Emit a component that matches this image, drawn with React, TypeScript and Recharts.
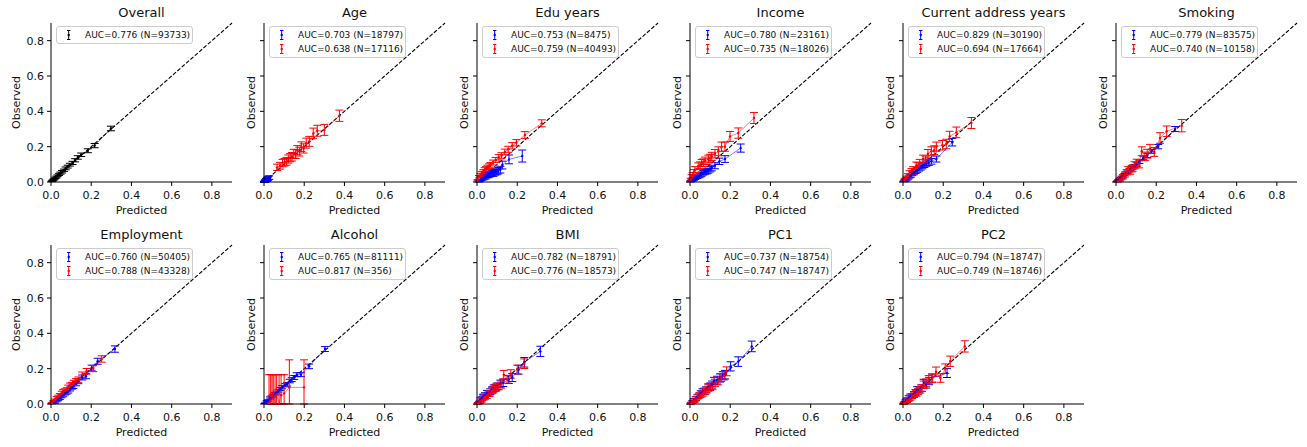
import React from 'react';
import { ScatterChart, Scatter, XAxis, YAxis, ErrorBar, ReferenceLine, Legend } from 'recharts';

// ---------- data ----------
const axisTicks = [0, 0.2, 0.4, 0.6, 0.8];

const overallX = [0.004,0.008,0.012,0.017,0.022,0.027,0.033,0.04,0.047,0.055,0.064,0.073,0.083,0.094,0.107,0.12,0.133,0.15,0.183,0.217,0.298];
const overallY = [0.004,0.008,0.013,0.017,0.023,0.028,0.035,0.043,0.05,0.058,0.066,0.077,0.087,0.098,0.108,0.123,0.139,0.154,0.177,0.206,0.303];
const overallErr = [0.002,0.003,0.003,0.004,0.004,0.005,0.005,0.006,0.006,0.007,0.007,0.008,0.008,0.008,0.009,0.009,0.01,0.01,0.011,0.012,0.013];
const overallLabels = ['AUC=0.776 (N=93733)'];

const ageBlueX = [0.001,0.002,0.003,0.004,0.005,0.006,0.007,0.008,0.009,0.01,0.011,0.012,0.013,0.014,0.015,0.016,0.018,0.02,0.022,0.026];
const ageBlueY = [0.001,0.001,0.002,0.004,0.004,0.006,0.006,0.009,0.008,0.01,0.012,0.011,0.014,0.013,0.016,0.015,0.019,0.02,0.023,0.025];
const ageBlueErr = [0.002,0.002,0.003,0.004,0.004,0.005,0.005,0.006,0.006,0.006,0.007,0.007,0.007,0.007,0.008,0.008,0.009,0.009,0.01,0.01];
const ageRedX = [0.065,0.08,0.092,0.102,0.112,0.121,0.13,0.139,0.148,0.157,0.166,0.176,0.186,0.197,0.21,0.225,0.245,0.265,0.3,0.375];
const ageRedY = [0.083,0.092,0.107,0.112,0.117,0.13,0.138,0.143,0.16,0.158,0.18,0.172,0.2,0.19,0.22,0.23,0.275,0.29,0.295,0.375];
const ageRedErr = [0.018,0.019,0.021,0.021,0.022,0.023,0.023,0.024,0.025,0.025,0.026,0.025,0.027,0.026,0.028,0.028,0.03,0.031,0.031,0.032];
const ageLabels = ['AUC=0.703 (N=18797)', 'AUC=0.638 (N=17116)'];

const eduBlueX = [0.008,0.014,0.02,0.026,0.032,0.038,0.044,0.05,0.056,0.062,0.068,0.075,0.082,0.09,0.098,0.106,0.116,0.126,0.159,0.225];
const eduBlueY = [0.004,0.008,0.015,0.02,0.022,0.028,0.03,0.04,0.036,0.042,0.045,0.05,0.046,0.055,0.058,0.064,0.07,0.096,0.128,0.147];
const eduBlueErr = [0.004,0.006,0.008,0.009,0.01,0.011,0.012,0.013,0.012,0.014,0.014,0.015,0.014,0.016,0.017,0.018,0.019,0.022,0.025,0.034];
const eduRedX = [0.003,0.01,0.018,0.025,0.032,0.038,0.045,0.052,0.06,0.067,0.08,0.093,0.108,0.122,0.138,0.155,0.175,0.196,0.238,0.322];
const eduRedY = [0.01,0.03,0.04,0.05,0.06,0.07,0.075,0.083,0.09,0.097,0.11,0.125,0.14,0.15,0.17,0.185,0.205,0.222,0.266,0.332];
const eduRedErr = [0.004,0.007,0.009,0.01,0.01,0.011,0.012,0.012,0.013,0.013,0.014,0.014,0.015,0.016,0.016,0.017,0.018,0.018,0.019,0.02];
const eduLabels = ['AUC=0.753 (N=8475)', 'AUC=0.759 (N=40493)'];

const incBlueX = [0.003,0.008,0.013,0.019,0.025,0.031,0.037,0.047,0.053,0.058,0.066,0.075,0.083,0.091,0.1,0.108,0.124,0.146,0.174,0.252];
const incBlueY = [0.004,0.008,0.013,0.017,0.023,0.027,0.03,0.035,0.04,0.045,0.052,0.057,0.06,0.064,0.072,0.079,0.092,0.117,0.13,0.192];
const incBlueErr = [0.004,0.005,0.007,0.008,0.009,0.009,0.01,0.011,0.011,0.012,0.013,0.013,0.014,0.014,0.015,0.016,0.017,0.018,0.019,0.023];
const incRedX = [0.003,0.008,0.013,0.019,0.025,0.041,0.05,0.058,0.066,0.075,0.091,0.1,0.108,0.124,0.141,0.157,0.174,0.199,0.24,0.318];
const incRedY = [0.013,0.03,0.04,0.055,0.07,0.089,0.095,0.107,0.11,0.12,0.13,0.135,0.145,0.16,0.174,0.2,0.2,0.258,0.277,0.362];
const incRedErr = [0.008,0.011,0.013,0.015,0.017,0.019,0.019,0.02,0.021,0.021,0.022,0.022,0.023,0.024,0.025,0.026,0.026,0.028,0.029,0.031];
const incLabels = ['AUC=0.780 (N=23161)', 'AUC=0.735 (N=18026)'];

const caBlueX = [0.004,0.008,0.012,0.017,0.022,0.027,0.033,0.039,0.046,0.054,0.063,0.071,0.08,0.088,0.096,0.106,0.116,0.128,0.141,0.166,0.245];
const caBlueY = [0.004,0.008,0.01,0.016,0.019,0.025,0.032,0.036,0.047,0.052,0.06,0.068,0.075,0.082,0.089,0.097,0.104,0.11,0.117,0.13,0.225];
const caBlueErr = [0.003,0.005,0.005,0.006,0.007,0.008,0.009,0.009,0.011,0.011,0.012,0.013,0.013,0.014,0.014,0.015,0.015,0.016,0.016,0.017,0.021];
const caRedX = [0.008,0.017,0.025,0.033,0.042,0.05,0.066,0.075,0.083,0.1,0.112,0.124,0.141,0.155,0.166,0.196,0.215,0.232,0.265,0.34];
const caRedY = [0.013,0.023,0.035,0.05,0.06,0.07,0.094,0.09,0.108,0.13,0.125,0.16,0.174,0.18,0.2,0.208,0.215,0.258,0.281,0.334];
const caRedErr = [0.008,0.01,0.012,0.014,0.016,0.017,0.019,0.019,0.02,0.022,0.022,0.024,0.025,0.025,0.026,0.027,0.027,0.029,0.03,0.031];
const caLabels = ['AUC=0.829 (N=30190)', 'AUC=0.694 (N=17664)'];

const smBlueX = [0.005,0.011,0.017,0.023,0.029,0.035,0.042,0.049,0.057,0.065,0.073,0.082,0.092,0.103,0.116,0.136,0.156,0.177,0.21,0.294];
const smBlueY = [0.004,0.01,0.014,0.022,0.027,0.034,0.042,0.05,0.056,0.066,0.072,0.08,0.09,0.1,0.115,0.136,0.15,0.174,0.2,0.3];
const smBlueErr = [0.002,0.003,0.004,0.004,0.005,0.006,0.006,0.007,0.007,0.008,0.008,0.008,0.009,0.009,0.01,0.01,0.011,0.011,0.012,0.014];
const smRedX = [0.01,0.02,0.028,0.036,0.045,0.053,0.061,0.07,0.078,0.083,0.092,0.103,0.115,0.128,0.144,0.155,0.169,0.19,0.219,0.252,0.327];
const smRedY = [0.005,0.013,0.023,0.03,0.042,0.055,0.07,0.06,0.075,0.079,0.095,0.108,0.1,0.174,0.145,0.16,0.187,0.17,0.249,0.287,0.319];
const smRedErr = [0.005,0.008,0.01,0.012,0.014,0.015,0.017,0.016,0.018,0.018,0.02,0.021,0.02,0.025,0.024,0.025,0.026,0.025,0.03,0.03,0.035];
const smLabels = ['AUC=0.779 (N=83575)', 'AUC=0.740 (N=10158)'];

const emBlueX = [0.005,0.012,0.02,0.028,0.036,0.044,0.052,0.061,0.07,0.078,0.086,0.095,0.103,0.111,0.125,0.136,0.155,0.174,0.202,0.232,0.318];
const emBlueY = [0.003,0.008,0.009,0.018,0.025,0.033,0.043,0.05,0.06,0.066,0.072,0.085,0.095,0.1,0.115,0.128,0.15,0.157,0.204,0.242,0.311];
const emBlueErr = [0.002,0.004,0.004,0.005,0.006,0.007,0.008,0.009,0.009,0.01,0.01,0.011,0.011,0.012,0.012,0.013,0.014,0.014,0.016,0.017,0.018];
const emRedX = [0.004,0.012,0.02,0.028,0.036,0.044,0.053,0.06,0.068,0.078,0.086,0.095,0.103,0.113,0.125,0.136,0.155,0.177,0.21,0.252];
const emRedY = [0.005,0.015,0.022,0.034,0.042,0.05,0.062,0.07,0.075,0.081,0.095,0.105,0.109,0.12,0.13,0.138,0.165,0.185,0.2,0.255];
const emRedErr = [0.003,0.005,0.006,0.008,0.008,0.009,0.01,0.011,0.011,0.011,0.012,0.013,0.013,0.014,0.014,0.015,0.016,0.016,0.017,0.018];
const emLabels = ['AUC=0.760 (N=50405)', 'AUC=0.788 (N=43328)'];

const alBlueX = [0.005,0.013,0.02,0.03,0.037,0.045,0.055,0.063,0.072,0.08,0.09,0.104,0.115,0.128,0.138,0.15,0.163,0.184,0.224,0.303];
const alBlueY = [0.004,0.015,0.02,0.034,0.04,0.046,0.058,0.065,0.075,0.085,0.095,0.106,0.112,0.13,0.138,0.15,0.166,0.166,0.213,0.311];
const alBlueErr = [0.002,0.004,0.004,0.006,0.006,0.006,0.007,0.008,0.008,0.009,0.009,0.009,0.01,0.01,0.011,0.011,0.011,0.011,0.013,0.014];
const alRedX = [0.025,0.033,0.04,0.046,0.055,0.063,0.075,0.085,0.1,0.126,0.199];
const alRedY = [0.0,0.055,0.045,0.06,0.0,0.055,0.0,0.05,0.06,0.094,0.094];
const alRedErrLow = [0.0,0.055,0.045,0.06,0.0,0.055,0.0,0.05,0.06,0.094,0.094];
const alRedErrHigh = [0.166,0.111,0.121,0.106,0.166,0.111,0.166,0.116,0.106,0.156,0.156];
const alLabels = ['AUC=0.765 (N=81111)', 'AUC=0.817 (N=356)'];

const bmiBlueX = [0.005,0.012,0.017,0.024,0.03,0.033,0.04,0.05,0.058,0.066,0.075,0.083,0.092,0.1,0.116,0.13,0.158,0.175,0.207,0.235,0.315];
const bmiBlueY = [0.005,0.01,0.025,0.03,0.04,0.043,0.05,0.062,0.06,0.07,0.08,0.09,0.09,0.1,0.115,0.12,0.138,0.15,0.194,0.236,0.298];
const bmiBlueErr = [0.004,0.006,0.01,0.011,0.012,0.013,0.014,0.015,0.015,0.016,0.017,0.018,0.018,0.019,0.02,0.021,0.022,0.023,0.025,0.027,0.029];
const bmiRedX = [0.004,0.01,0.017,0.024,0.033,0.04,0.048,0.058,0.066,0.075,0.08,0.088,0.095,0.108,0.12,0.133,0.15,0.168,0.2,0.235];
const bmiRedY = [0.003,0.008,0.015,0.02,0.034,0.04,0.045,0.058,0.06,0.075,0.081,0.09,0.095,0.1,0.11,0.166,0.14,0.17,0.195,0.228];
const bmiRedErr = [0.004,0.006,0.008,0.009,0.012,0.013,0.013,0.015,0.015,0.017,0.017,0.018,0.019,0.019,0.02,0.024,0.022,0.024,0.025,0.027];
const bmiLabels = ['AUC=0.782 (N=18791)', 'AUC=0.776 (N=18573)'];

const pc1BlueX = [0.005,0.012,0.02,0.028,0.036,0.045,0.053,0.062,0.07,0.08,0.09,0.1,0.11,0.12,0.135,0.149,0.163,0.174,0.202,0.24,0.307];
const pc1BlueY = [0.005,0.012,0.022,0.03,0.04,0.048,0.06,0.07,0.072,0.08,0.095,0.1,0.11,0.13,0.135,0.147,0.16,0.166,0.213,0.24,0.326];
const pc1BlueErr = [0.004,0.007,0.009,0.011,0.012,0.014,0.015,0.016,0.017,0.017,0.019,0.019,0.02,0.021,0.022,0.023,0.023,0.024,0.026,0.027,0.03];
const pc1RedX = [0.004,0.011,0.017,0.024,0.03,0.041,0.05,0.058,0.066,0.075,0.083,0.091,0.1,0.112,0.124,0.14,0.155,0.17,0.182];
const pc1RedY = [0.003,0.01,0.015,0.02,0.03,0.043,0.05,0.055,0.062,0.072,0.08,0.09,0.095,0.1,0.119,0.13,0.15,0.16,0.185];
const pc1RedErr = [0.004,0.006,0.008,0.009,0.011,0.013,0.014,0.015,0.016,0.017,0.017,0.018,0.019,0.019,0.021,0.022,0.023,0.023,0.025];
const pc1Labels = ['AUC=0.737 (N=18754)', 'AUC=0.747 (N=18747)'];

const pc2BlueX = [0.004,0.008,0.012,0.016,0.022,0.028,0.036,0.045,0.055,0.062,0.07,0.08,0.09,0.103,0.115,0.13,0.144,0.219];
const pc2BlueY = [0.005,0.008,0.015,0.02,0.025,0.035,0.043,0.045,0.055,0.065,0.081,0.08,0.09,0.119,0.11,0.13,0.147,0.175];
const pc2BlueErr = [0.004,0.006,0.008,0.009,0.01,0.012,0.013,0.013,0.015,0.016,0.017,0.017,0.018,0.021,0.02,0.021,0.023,0.025];
const pc2RedX = [0.005,0.012,0.02,0.028,0.036,0.045,0.055,0.066,0.075,0.085,0.095,0.103,0.115,0.128,0.145,0.164,0.186,0.21,0.235,0.307];
const pc2RedY = [0.003,0.01,0.018,0.025,0.033,0.045,0.052,0.06,0.07,0.08,0.09,0.109,0.12,0.138,0.145,0.183,0.147,0.2,0.242,0.326];
const pc2RedErr = [0.004,0.006,0.009,0.01,0.012,0.014,0.015,0.016,0.017,0.018,0.019,0.021,0.022,0.023,0.024,0.026,0.024,0.027,0.029,0.032];
const pc2Labels = ['AUC=0.794 (N=18747)', 'AUC=0.749 (N=18746)'];

// ---------- styling ----------
const FONT = "'DejaVu Sans', 'Liberation Sans', sans-serif";
const BLUE = '#0000ff';
const RED = '#ff0000';
const BLACK = '#000000';

type Series = {
  x: number[];
  y: number[];
  err?: number[];
  lo?: number[];
  hi?: number[];
  color: string;
  label: string;
};
type PanelDef = { title: string; series: Series[] };

const panels: PanelDef[] = [
  { title: 'Overall', series: [{ x: overallX, y: overallY, err: overallErr, color: BLACK, label: overallLabels[0] }] },
  { title: 'Age', series: [
    { x: ageBlueX, y: ageBlueY, err: ageBlueErr, color: BLUE, label: ageLabels[0] },
    { x: ageRedX, y: ageRedY, err: ageRedErr, color: RED, label: ageLabels[1] },
  ] },
  { title: 'Edu years', series: [
    { x: eduBlueX, y: eduBlueY, err: eduBlueErr, color: BLUE, label: eduLabels[0] },
    { x: eduRedX, y: eduRedY, err: eduRedErr, color: RED, label: eduLabels[1] },
  ] },
  { title: 'Income', series: [
    { x: incBlueX, y: incBlueY, err: incBlueErr, color: BLUE, label: incLabels[0] },
    { x: incRedX, y: incRedY, err: incRedErr, color: RED, label: incLabels[1] },
  ] },
  { title: 'Current address years', series: [
    { x: caBlueX, y: caBlueY, err: caBlueErr, color: BLUE, label: caLabels[0] },
    { x: caRedX, y: caRedY, err: caRedErr, color: RED, label: caLabels[1] },
  ] },
  { title: 'Smoking', series: [
    { x: smBlueX, y: smBlueY, err: smBlueErr, color: BLUE, label: smLabels[0] },
    { x: smRedX, y: smRedY, err: smRedErr, color: RED, label: smLabels[1] },
  ] },
  { title: 'Employment', series: [
    { x: emBlueX, y: emBlueY, err: emBlueErr, color: BLUE, label: emLabels[0] },
    { x: emRedX, y: emRedY, err: emRedErr, color: RED, label: emLabels[1] },
  ] },
  { title: 'Alcohol', series: [
    { x: alBlueX, y: alBlueY, err: alBlueErr, color: BLUE, label: alLabels[0] },
    { x: alRedX, y: alRedY, lo: alRedErrLow, hi: alRedErrHigh, color: RED, label: alLabels[1] },
  ] },
  { title: 'BMI', series: [
    { x: bmiBlueX, y: bmiBlueY, err: bmiBlueErr, color: BLUE, label: bmiLabels[0] },
    { x: bmiRedX, y: bmiRedY, err: bmiRedErr, color: RED, label: bmiLabels[1] },
  ] },
  { title: 'PC1', series: [
    { x: pc1BlueX, y: pc1BlueY, err: pc1BlueErr, color: BLUE, label: pc1Labels[0] },
    { x: pc1RedX, y: pc1RedY, err: pc1RedErr, color: RED, label: pc1Labels[1] },
  ] },
  { title: 'PC2', series: [
    { x: pc2BlueX, y: pc2BlueY, err: pc2BlueErr, color: BLUE, label: pc2Labels[0] },
    { x: pc2RedX, y: pc2RedY, err: pc2RedErr, color: RED, label: pc2Labels[1] },
  ] },
];

const toPoints = (s: Series) =>
  s.x.map((x, i) => ({
    x,
    y: s.y[i],
    err: s.err ? s.err[i] : [s.lo![i], s.hi![i]],
  }));

const fmt = (v: number) => v.toFixed(1);
const blank = () => '';

const CHART_W = 240;
const CHART_H = 222;
const COL_STEP = 213;
const ROW_STEP = 222;

function LegendBox({ series }: { series: Series[] }) {
  return (
    <div
      style={{
        width: 137,
        boxSizing: 'border-box',
        border: '1px solid #cccccc',
        borderRadius: 3,
        background: 'rgba(255,255,255,0.8)',
        padding: '1px 0',
        fontFamily: FONT,
        fontSize: 9,
        fontWeight: 400,
        color: '#111',
      }}
    >
      {series.map((s, i) => (
        <div key={i} style={{ display: 'flex', alignItems: 'center', height: 14, whiteSpace: 'nowrap' }}>
          <svg width={28} height={12} style={{ flex: 'none' }}>
            <line x1={11.7} x2={11.7} y1={1.5} y2={10.5} stroke={s.color} strokeWidth={1} />
            <line x1={10} x2={13.4} y1={1.5} y2={1.5} stroke={s.color} strokeWidth={1} />
            <line x1={10} x2={13.4} y1={10.5} y2={10.5} stroke={s.color} strokeWidth={1} />
            <circle cx={11.7} cy={6} r={1.2} fill={s.color} />
          </svg>
          <span>{s.label}</span>
        </div>
      ))}
    </div>
  );
}

function Panel({ def, index }: { def: PanelDef; index: number }) {
  const col = index % 6;
  const row = Math.floor(index / 6);
  const showY = col === 0;
  const tickStyle = { fontSize: 11, fill: '#111', fontFamily: FONT };
  return (
    <div style={{ position: 'absolute', left: col * COL_STEP, top: row * ROW_STEP, width: CHART_W, height: CHART_H }}>
      <div
        style={{
          position: 'absolute',
          left: 51,
          width: 181,
          top: 5.5,
          textAlign: 'center',
          fontFamily: FONT,
          fontSize: 13,
          fontWeight: 400,
          lineHeight: '13px',
          color: '#111',
          whiteSpace: 'nowrap',
        }}
      >
        {def.title}
      </div>
      <ScatterChart width={CHART_W} height={CHART_H} margin={{ top: 23, right: 8, bottom: 4, left: 0 }}>
        <XAxis
          type="number"
          dataKey="x"
          domain={[0, 0.9]}
          allowDataOverflow
          ticks={axisTicks}
          interval={0}
          tickFormatter={fmt}
          tick={tickStyle}
          tickSize={4}
          tickMargin={5}
          height={36}
          axisLine={{ stroke: '#000', strokeWidth: 1 }}
          tickLine={{ stroke: '#000', strokeWidth: 1 }}
          label={{ value: 'Predicted', position: 'insideBottom', offset: 4.5, fontSize: 11, fill: '#111', fontFamily: FONT }}
        />
        <YAxis
          type="number"
          dataKey="y"
          domain={[0, 0.9]}
          allowDataOverflow
          ticks={axisTicks}
          interval={0}
          tickFormatter={showY ? fmt : blank}
          tick={tickStyle}
          tickSize={4}
          tickMargin={3}
          width={51}
          axisLine={{ stroke: '#000', strokeWidth: 1 }}
          tickLine={{ stroke: '#000', strokeWidth: 1 }}
          label={{
            value: 'Observed',
            angle: -90,
            position: 'insideLeft',
            offset: showY ? 15.8 : 38,
            fontSize: 11,
            fill: '#111',
            fontFamily: FONT,
            style: { textAnchor: 'middle' },
          }}
        />
        <ReferenceLine
          segment={[{ x: 0, y: 0 }, { x: 0.9, y: 0.9 }]}
          stroke="#000"
          strokeWidth={1.1}
          strokeDasharray="4 1.8"
        />
        {def.series.map((s, k) => (
          <Scatter
            key={k}
            data={toPoints(s)}
            fill={s.color}
            isAnimationActive={false}
            line={{ stroke: s.color, strokeWidth: 1, strokeOpacity: 0.5 }}
            lineType="joint"
            shape={(p: any) => <circle cx={p.cx} cy={p.cy} r={1.2} fill={s.color} />}
          >
            <ErrorBar dataKey="err" direction="y" width={4} stroke={s.color} strokeWidth={1} isAnimationActive={false} />
          </Scatter>
        ))}
        <Legend
          layout="vertical"
          verticalAlign="middle"
          align="center"
          wrapperStyle={{ left: 56, top: 26, width: 137 }}
          content={() => <LegendBox series={def.series} />}
        />
      </ScatterChart>
    </div>
  );
}

export default function App() {
  return (
    <div style={{ position: 'absolute', left: 0, top: 0, width: 1307, height: 447, background: '#fff' }}>
      {panels.map((p, i) => (
        <Panel key={p.title} def={p} index={i} />
      ))}
    </div>
  );
}
